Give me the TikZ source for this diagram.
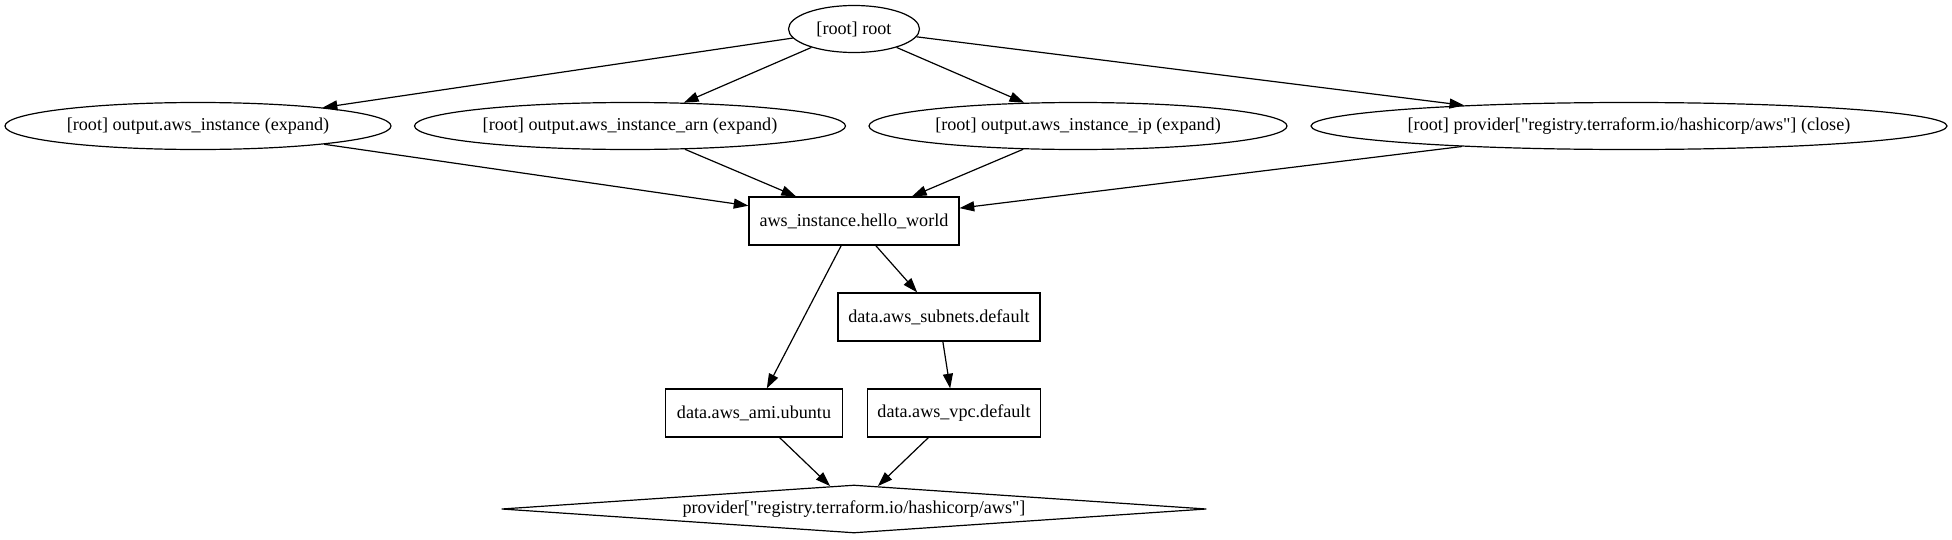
\documentclass[tikz,border=0pt]{standalone}
\usepackage{fontspec}
\setmainfont{Liberation Serif}[Ligatures=TeXOff]
\usetikzlibrary{shapes.geometric,arrows.meta}
\begin{document}
\begin{tikzpicture}[x=0.75pt,y=-0.75pt,
  every node/.style={font=\fontsize{13.6}{16}\selectfont, inner sep=0pt, line width=0.9pt},
  ell/.style={draw, ellipse, minimum height=35.25pt},
  boxn/.style={draw, rectangle, minimum height=36pt},
  dia/.style={draw, diamond, aspect=14.69, minimum width=528.75pt, minimum height=36pt},
  edge/.style={line width=0.9pt, -{Triangle[length=11pt,width=7.5pt]}}]
\useasboundingbox (0,0) rectangle (1952,539);
\node[ell, minimum width=98.25pt] (root) at (854,29) {[root] root};
\node[ell, minimum width=289.5pt] (a) at (198,126) {[root] output.aws\_instance (expand)};
\node[ell, minimum width=323.25pt] (b) at (630,126) {[root] output.aws\_instance\_arn (expand)};
\node[ell, minimum width=313.5pt] (c) at (1078,126) {[root] output.aws\_instance\_ip (expand)};
\node[ell, minimum width=477pt] (d) at (1629,126) {[root] provider["registry.terraform.io/hashicorp/aws"] (close)};
\node[boxn, minimum width=157.5pt] (hello) at (854,221) {aws\_instance.hello\_world};
\node[boxn, minimum width=151.5pt] (subnets) at (939,317) {data.aws\_subnets.default};
\node[boxn, minimum width=132.75pt] (ami) at (754,413) {data.aws\_ami.ubuntu};
\node[boxn, minimum width=129.75pt] (vpc) at (954,413) {data.aws\_vpc.default};
\node[dia] (prov) at (854,509) {provider["registry.terraform.io/hashicorp/aws"]};
\draw[edge] (root) -- (a);
\draw[edge] (root) -- (b);
\draw[edge] (root) -- (c);
\draw[edge] (root) -- (d);
\draw[edge] (a) -- (hello);
\draw[edge] (b) -- (hello);
\draw[edge] (c) -- (hello);
\draw[edge] (d) -- (hello);
\draw[edge] (hello) -- (ami);
\draw[edge] (hello) -- (subnets);
\draw[edge] (subnets) -- (vpc);
\draw[edge] (ami) -- (prov);
\draw[edge] (vpc) -- (prov);
\end{tikzpicture}
\end{document}
